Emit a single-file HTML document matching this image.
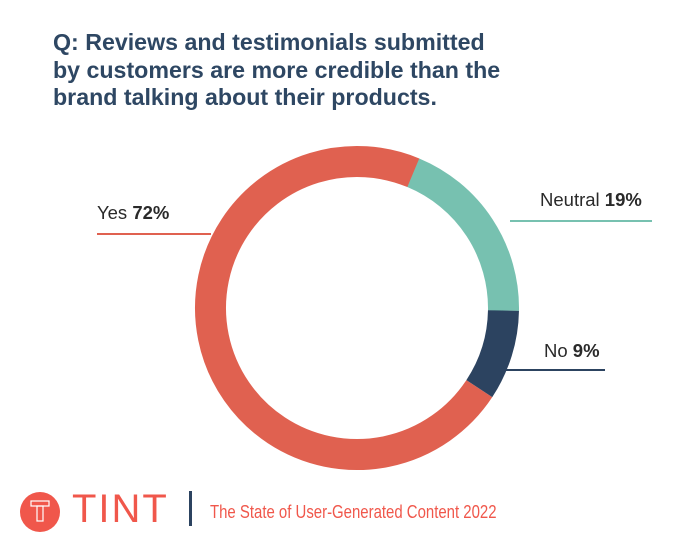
<!DOCTYPE html>
<html><head><meta charset="utf-8"><style>
body{margin:0;width:700px;height:553px;background:#fff;overflow:hidden;position:relative;font-family:"Liberation Sans",sans-serif}
.t{position:absolute;left:53px;top:29px;font-size:23.2px;font-weight:bold;color:#2e4763;line-height:27.5px;letter-spacing:0px}
.l{position:absolute;font-size:18.5px;color:#2a2a2a}
</style></head><body>
<div class="t">Q: Reviews and testimonials submitted<br>by customers are more credible than the<br>brand talking about their products.</div>
<svg width="700" height="553" style="position:absolute;left:0;top:0">
<g fill="none" stroke-width="31">
<circle cx="357" cy="308" r="146.5" stroke="#e06150" stroke-dasharray="662.8 1000" transform="rotate(33.4 357 308)"/>
<circle cx="357" cy="308" r="146.5" stroke="#77c1b0" stroke-dasharray="174.9 1000" transform="rotate(-67.4 357 308)"/>
<circle cx="357" cy="308" r="146.5" stroke="#2c4360" stroke-dasharray="82.8 1000" transform="rotate(1 357 308)"/>
</g>
<line x1="97" y1="234" x2="211" y2="234" stroke="#e06150" stroke-width="2"/>
<line x1="510" y1="221" x2="652" y2="221" stroke="#77c1b0" stroke-width="2"/>
<line x1="500" y1="370" x2="605" y2="370" stroke="#2c4360" stroke-width="2"/>
<circle cx="40" cy="512" r="20" fill="#f0574b"/>
<g fill="none" stroke="#fff" stroke-width="1.2">
<rect x="31" y="501" width="18" height="5"/><rect x="37" y="506" width="6" height="15"/>
</g>
<rect x="189" y="491" width="3" height="35" fill="#2c4360"/>
</svg>
<div class="l" style="left:97px;top:202px">Yes <b>72%</b></div>
<div class="l" style="left:540px;top:189px">Neutral <b>19%</b></div>
<div class="l" style="left:544px;top:340px">No <b>9%</b></div>
<div style="position:absolute;left:72px;top:487px;font-size:40px;color:#f0574b;letter-spacing:2px">TINT</div>
<div style="position:absolute;left:210px;top:502px;font-size:18px;color:#f0574b;transform:scaleX(0.83);transform-origin:0 0;white-space:nowrap">The State of User-Generated Content 2022</div>
</body></html>
